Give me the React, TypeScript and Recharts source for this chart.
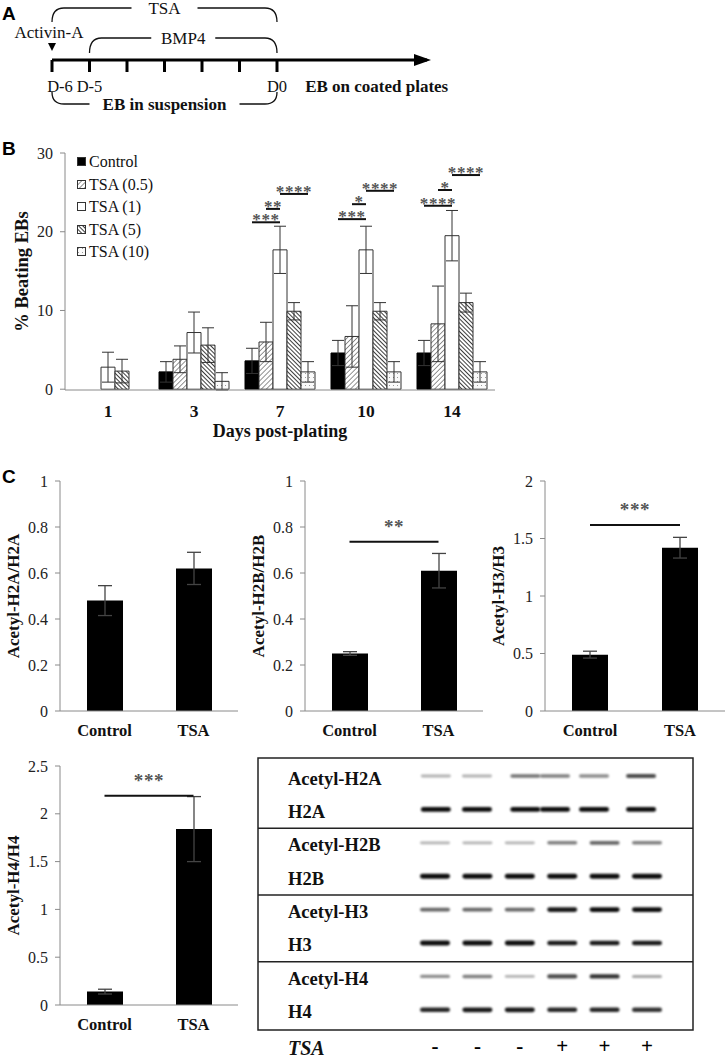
import React from "react";
import {
  BarChart,
  Bar,
  XAxis,
  YAxis,
  ErrorBar,
  ReferenceLine,
  ReferenceDot,
  ReferenceArea,
  Legend,
  LineChart,
  Line,
  ScatterChart,
  Scatter,
} from "recharts";

const SERIF = '"Liberation Serif", "Times New Roman", serif';
const SANS = '"Liberation Sans", Arial, sans-serif';
const AXIS = "#8a8a8a";

// ---- A: protocol timeline (days relative to plating)
const timelineDays = [-6, -5, -4, -3, -2, -1, 0];
const timelineLabels = ["D-6", "D-5", "", "", "", "", "D0"];

// ---- B: % beating EBs
const days = ["1", "3", "7", "10", "14"];
const seriesNames = ["Control", "TSA (0.5)", "TSA (1)", "TSA (5)", "TSA (10)"];
const controlMean = [null, 2.2, 3.6, 4.6, 4.6];
const controlErr = [null, 1.3, 1.6, 1.6, 1.6];
const tsa05Mean = [null, 3.8, 6.0, 6.7, 8.3];
const tsa05Err = [null, 1.7, 2.5, 3.9, 4.8];
const tsa1Mean = [2.8, 7.2, 17.7, 17.7, 19.5];
const tsa1Err = [1.9, 2.6, 3.0, 3.0, 3.2];
const tsa5Mean = [2.3, 5.6, 9.9, 9.9, 11.0];
const tsa5Err = [1.5, 2.2, 1.1, 1.1, 1.2];
const tsa10Mean = [null, 1.0, 2.2, 2.2, 2.2];
const tsa10Err = [null, 1.1, 1.3, 1.3, 1.3];

// significance brackets: category index, series from/to, height (%), stars
const beatingSig = [
  { day: 2, from: 0, to: 2, y: 21.2, stars: "***" },
  { day: 2, from: 1, to: 2, y: 22.9, stars: "**" },
  { day: 2, from: 2, to: 4, y: 24.8, stars: "****" },
  { day: 3, from: 0, to: 2, y: 21.6, stars: "***" },
  { day: 3, from: 1, to: 2, y: 23.5, stars: "*" },
  { day: 3, from: 2, to: 4, y: 25.2, stars: "****" },
  { day: 4, from: 0, to: 2, y: 23.3, stars: "****" },
  { day: 4, from: 1, to: 2, y: 25.3, stars: "*" },
  { day: 4, from: 2, to: 4, y: 27.2, stars: "****" },
];

// ---- C: acetylation ratios
const groups = ["Control", "TSA"];
const h2aMean = [0.48, 0.62];
const h2aErr = [0.065, 0.07];
const h2bMean = [0.25, 0.61];
const h2bErr = [0.008, 0.075];
const h3Mean = [0.49, 1.42];
const h3Err = [0.03, 0.09];
const h4Mean = [0.14, 1.84];
const h4Err = [0.025, 0.34];

// western blot
const blotRows = ["Acetyl-H2A", "H2A", "Acetyl-H2B", "H2B", "Acetyl-H3", "H3", "Acetyl-H4", "H4"];
const tsaSigns = ["-", "-", "-", "+", "+", "+"];
const lanes = [1, 2, 3, 4, 5, 6];
const h2aLanes = [1.02, 1.99, 3.13, 3.83, 4.75, 5.86];
const bandIntensity = [
  [0.3, 0.3, 0.55, 0.5, 0.45, 0.7],
  [0.95, 0.95, 0.95, 0.95, 0.95, 0.95],
  [0.3, 0.3, 0.3, 0.5, 0.6, 0.5],
  [0.95, 0.95, 0.95, 0.95, 0.95, 0.95],
  [0.6, 0.6, 0.6, 0.9, 0.95, 0.95],
  [0.95, 0.95, 0.95, 0.9, 0.9, 0.9],
  [0.45, 0.5, 0.3, 0.7, 0.8, 0.35],
  [0.85, 0.9, 0.9, 0.85, 0.85, 0.8],
];

const beatingSeries = [
  { key: "control", mean: controlMean, err: controlErr },
  { key: "tsa05", mean: tsa05Mean, err: tsa05Err },
  { key: "tsa1", mean: tsa1Mean, err: tsa1Err },
  { key: "tsa5", mean: tsa5Mean, err: tsa5Err },
  { key: "tsa10", mean: tsa10Mean, err: tsa10Err },
];
const seriesFills = ["#000", "url(#hatchLight)", "#fff", "url(#hatchDark)", "url(#speckle)"];

const beatingData = days.map((d, i) => {
  const row: any = { day: d, pos: i + 0.5 };
  beatingSeries.forEach((s) => {
    row[s.key] = s.mean[i];
    row[s.key + "Err"] = s.err[i];
  });
  return row;
});

const blotData = blotRows.flatMap((_, ri) =>
  bandIntensity[ri].map((v, li) => ({
    lane: ri < 2 ? h2aLanes[li] : lanes[li],
    row: ri,
    intensity: v,
  }))
);

const B_PLOT_W = 430;
const B_BAR = 14;
const barCenter = (day: number, s: number) => day + 0.5 + ((s - 2) * B_BAR) / (B_PLOT_W / 5);

const starLabel = (stars: string, lift: number, size: number) => (props: any) => {
  const vb = props.viewBox;
  return (
    <text
      x={vb.x + vb.width / 2}
      y={vb.y - lift}
      textAnchor="middle"
      fontFamily={SERIF}
      fontSize={size}
      fontWeight="bold"
      fill="#555"
      letterSpacing={0.6}
    >
      {stars}
    </text>
  );
};

const yTitle = (text: string, x: number, size: number) => (props: any) => {
  const vb = props.viewBox;
  const cy = vb.y + vb.height / 2;
  return (
    <text
      x={x}
      y={cy}
      transform={`rotate(-90 ${x} ${cy})`}
      textAnchor="middle"
      dominantBaseline="central"
      fontFamily={SERIF}
      fontSize={size}
      fontWeight="bold"
      fill="#111"
    >
      {text}
    </text>
  );
};

function Brace(props: any) {
  const { x1, x2, y1, depth, text, gap, bold } = props;
  const rx = 12;
  const mid = (x1 + x2) / 2;
  const d =
    `M${x1},${y1 + depth} Q${x1},${y1} ${x1 + rx},${y1} L${mid - gap},${y1} ` +
    `M${mid + gap},${y1} L${x2 - rx},${y1} Q${x2},${y1} ${x2},${y1 + depth}`;
  return (
    <g>
      <path d={d} fill="none" stroke="#111" strokeWidth={1.3} />
      <text
        x={mid}
        y={y1}
        dy="0.35em"
        textAnchor="middle"
        fontFamily={SERIF}
        fontSize={17}
        fontWeight={bold ? "bold" : "normal"}
        fill="#111"
      >
        {text}
      </text>
    </g>
  );
}

const DayTick = ({ x, y, payload }: any) => {
  const i = timelineDays.indexOf(payload.value);
  return (
    <text x={i === 0 ? x + 8 : x} y={y} dy="0.72em" textAnchor="middle" fontFamily={SERIF} fontSize={16.5} fill="#111">
      {timelineLabels[i]}
    </text>
  );
};

function Timeline() {
  return (
    <LineChart
      width={725}
      height={120}
      data={timelineDays.map((d) => ({ d, base: 0 }))}
      margin={{ top: 0, right: 298, left: 52, bottom: 0 }}
    >
      <XAxis
        type="number"
        dataKey="d"
        domain={[-6, 4]}
        ticks={timelineDays}
        height={60}
        axisLine={{ stroke: "#000", strokeWidth: 3 }}
        tickLine={{ stroke: "#000", strokeWidth: 3 }}
        tickSize={12}
        tickMargin={8}
        tick={<DayTick />}
      />
      <YAxis hide type="number" domain={[0, 60]} allowDataOverflow />
      <Line dataKey="base" stroke="none" dot={false} isAnimationActive={false} />
      <ReferenceLine
        segment={[{ x: -6, y: 52 }, { x: 0, y: 52 }]}
        ifOverflow="visible"
        shape={(p: any) => <Brace {...p} depth={14} gap={33} text="TSA" />}
      />
      <ReferenceLine
        segment={[{ x: -5, y: 22 }, { x: 0, y: 22 }]}
        ifOverflow="visible"
        shape={(p: any) => <Brace {...p} depth={15} gap={32} text="BMP4" />}
      />
      <ReferenceLine
        segment={[{ x: -6, y: -44 }, { x: 0, y: -44 }]}
        ifOverflow="visible"
        shape={(p: any) => <Brace {...p} depth={-12} gap={75} text="EB in suspension" bold />}
      />
      <ReferenceDot
        x={4}
        y={0}
        ifOverflow="visible"
        shape={(p: any) => (
          <polygon points={`${p.cx - 13},${p.cy - 6} ${p.cx + 4},${p.cy} ${p.cx - 13},${p.cy + 6}`} fill="#000" />
        )}
      />
      <ReferenceDot
        x={-6}
        y={12}
        ifOverflow="visible"
        shape={(p: any) => (
          <g>
            <polygon points={`${p.cx - 4},${p.cy - 5} ${p.cx + 4},${p.cy - 5} ${p.cx},${p.cy + 3}`} fill="#000" />
            <text x={p.cx - 3} y={p.cy - 10} textAnchor="middle" fontFamily={SERIF} fontSize={17} fill="#111">
              Activin-A
            </text>
          </g>
        )}
      />
      <ReferenceDot
        x={0.75}
        y={-26}
        ifOverflow="visible"
        shape={(p: any) => (
          <text x={p.cx} y={p.cy} dy="0.35em" textAnchor="start" fontFamily={SERIF} fontSize={17} fontWeight="bold" fill="#111">
            EB on coated plates
          </text>
        )}
      />
    </LineChart>
  );
}

const BeatingLegend = () => (
  <div style={{ fontFamily: SERIF, fontSize: 16, lineHeight: "22.5px", color: "#111" }}>
    {seriesNames.map((n, i) => (
      <div key={n} style={{ display: "flex", alignItems: "center" }}>
        <svg width={10} height={10} style={{ marginRight: 2 }}>
          <rect x={0.5} y={0.5} width={8} height={8} fill={seriesFills[i]} stroke="#333" />
        </svg>
        {n}
      </div>
    ))}
  </div>
);

function BeatingChart() {
  return (
    <BarChart
      width={510}
      height={305}
      data={beatingData}
      margin={{ top: 13, right: 15, left: 0, bottom: 0 }}
      barGap={0}
    >
      <defs>
        <pattern id="hatchLight" width={3.5} height={3.5} patternUnits="userSpaceOnUse" patternTransform="rotate(45)">
          <rect width={3.5} height={3.5} fill="#fff" />
          <line x1={0} y1={0} x2={0} y2={3.5} stroke="#7a7a7a" strokeWidth={1.6} />
        </pattern>
        <pattern id="hatchDark" width={3} height={3} patternUnits="userSpaceOnUse" patternTransform="rotate(-45)">
          <rect width={3} height={3} fill="#fff" />
          <line x1={0} y1={0} x2={0} y2={3} stroke="#1a1a1a" strokeWidth={1.7} />
        </pattern>
        <pattern id="speckle" width={4} height={4} patternUnits="userSpaceOnUse">
          <rect width={4} height={4} fill="#fafafa" />
          <rect x={1} y={1} width={1} height={1} fill="#9a9a9a" />
        </pattern>
      </defs>
      <XAxis
        xAxisId="a"
        type="number"
        dataKey="pos"
        domain={[0, 5]}
        ticks={[0, 1, 2, 3, 4, 5]}
        height={1}
        axisLine={{ stroke: AXIS }}
        tick={false}
        tickSize={5}
        tickLine={{ stroke: AXIS }}
        allowDataOverflow
      />
      <XAxis
        xAxisId="b"
        dataKey="day"
        height={54}
        axisLine={false}
        tickLine={false}
        tickSize={6}
        tickMargin={8}
        tick={{ fontSize: 17.5, fontWeight: "bold", fill: "#111", fontFamily: SERIF }}
        label={(props: any) => {
          const vb = props.viewBox;
          return (
            <text
              x={vb.x + vb.width / 2}
              y={vb.y + 46}
              textAnchor="middle"
              fontFamily={SERIF}
              fontSize={18}
              fontWeight="bold"
              fill="#111"
            >
              Days post-plating
            </text>
          );
        }}
      />
      <YAxis
        width={65}
        domain={[0, 30]}
        ticks={[0, 10, 20, 30]}
        axisLine={{ stroke: AXIS }}
        tickLine={{ stroke: AXIS }}
        tickSize={5}
        tickMargin={7}
        tick={{ fontSize: 16, fill: "#222", fontFamily: SERIF }}
        label={yTitle("% Beating EBs", 22, 18.5)}
      />
      <Legend
        content={<BeatingLegend />}
        layout="vertical"
        align="center"
        verticalAlign="middle"
        wrapperStyle={{ left: 77, top: 11, width: 110 }}
      />
      {beatingSeries.map((s, i) => (
        <Bar
          key={s.key}
          xAxisId="b"
          dataKey={s.key}
          barSize={B_BAR}
          fill={seriesFills[i]}
          stroke={i === 0 ? "#000" : "#333"}
          strokeWidth={1}
          isAnimationActive={false}
        >
          <ErrorBar dataKey={s.key + "Err"} width={6} stroke="#333" strokeWidth={1} direction="y" />
        </Bar>
      ))}
      {beatingSig.map((g, i) => (
        <ReferenceLine
          key={i}
          xAxisId="a"
          segment={[
            { x: barCenter(g.day, g.from), y: g.y },
            { x: barCenter(g.day, g.to), y: g.y },
          ]}
          stroke="#111"
          strokeWidth={2}
          ifOverflow="visible"
          label={starLabel(g.stars, -3, 17)}
        />
      ))}
    </BarChart>
  );
}

type HistoneProps = {
  left: number;
  top: number;
  width: number;
  right: number;
  plotH: number;
  mean: number[];
  err: number[];
  yMax: number;
  ticks: number[];
  title: string;
  sig?: { y: number; stars: string };
};

function HistoneChart(p: HistoneProps) {
  const data = groups.map((g, i) => ({ group: g, pos: i + 0.5, mean: p.mean[i], err: p.err[i] }));
  return (
    <div style={{ position: "absolute", left: p.left, top: p.top }}>
      <BarChart
        width={p.width}
        height={p.plotH + 10 + 40}
        data={data}
        margin={{ top: 10, right: p.right, left: 0, bottom: 0 }}
      >
        <XAxis
          xAxisId="a"
          type="number"
          dataKey="pos"
          domain={[0, 2]}
          ticks={[0, 1, 2]}
          height={1}
          axisLine={{ stroke: AXIS }}
          tick={false}
          tickSize={5}
          tickLine={{ stroke: AXIS }}
          allowDataOverflow
        />
        <XAxis
          xAxisId="b"
          dataKey="group"
          height={39}
          axisLine={false}
          tickLine={false}
          tickSize={5}
          tickMargin={7}
          tick={{ fontSize: 16.5, fontWeight: "bold", fill: "#111", fontFamily: SERIF }}
        />
        <YAxis
          width={60}
          domain={[0, p.yMax]}
          ticks={p.ticks}
          axisLine={{ stroke: AXIS }}
          tickLine={{ stroke: AXIS }}
          tickSize={5}
          tickMargin={7}
          tick={{ fontSize: 16, fill: "#222", fontFamily: SERIF }}
          label={yTitle(p.title, 13, 17)}
        />
        <Bar xAxisId="b" dataKey="mean" fill="#000" barSize={36} isAnimationActive={false}>
          <ErrorBar dataKey="err" width={7} stroke="#444" strokeWidth={1.3} direction="y" />
        </Bar>
        {p.sig && (
          <ReferenceLine
            xAxisId="a"
            segment={[
              { x: 0.5, y: p.sig.y },
              { x: 1.5, y: p.sig.y },
            ]}
            stroke="#111"
            strokeWidth={2}
            ifOverflow="visible"
            label={starLabel(p.sig.stars, 9, 19)}
          />
        )}
      </BarChart>
    </div>
  );
}

const BlotRowTick = ({ y, payload }: any) => (
  <text x={31} y={y} dy="0.35em" textAnchor="start" fontFamily={SERIF} fontSize={18.5} fontWeight="bold" fill="#111">
    {blotRows[payload.value]}
  </text>
);

function Blot() {
  return (
    <ScatterChart width={437} height={301} margin={{ top: 1, right: 1, left: 0, bottom: 0 }}>
      <defs>
        <filter id="bandBlur" x="-20%" y="-100%" width="140%" height="300%">
          <feGaussianBlur stdDeviation="0.9" />
        </filter>
      </defs>
      <XAxis
        type="number"
        dataKey="lane"
        domain={[-3.175, 7.085]}
        ticks={lanes}
        height={28}
        axisLine={false}
        tickLine={false}
        tickSize={6}
        tickMargin={2}
        tickFormatter={(v: number) => tsaSigns[v - 1]}
        tick={{ fontSize: 21, fontWeight: "bold", fill: "#000", fontFamily: SERIF }}
        allowDataOverflow
        label={(props: any) => {
          const vb = props.viewBox;
          return (
            <text
              x={31}
              y={vb.y + 18}
              dy="0.35em"
              fontFamily={SERIF}
              fontSize={20}
              fontWeight="bold"
              fontStyle="italic"
              fill="#111"
            >
              TSA
            </text>
          );
        }}
      />
      <YAxis
        type="number"
        dataKey="row"
        domain={[-0.6, 7.545]}
        reversed
        width={1}
        ticks={[0, 1, 2, 3, 4, 5, 6, 7]}
        axisLine={false}
        tickLine={false}
        tick={<BlotRowTick />}
        allowDataOverflow
      />
      <ReferenceArea
        x1={-3.175}
        x2={7.085}
        y1={-0.6}
        y2={7.545}
        fill="none"
        stroke="#222"
        strokeWidth={1.5}
        ifOverflow="visible"
      />
      {[1.5, 3.5, 5.5].map((y) => (
        <ReferenceLine key={y} y={y} stroke="#222" strokeWidth={1.5} />
      ))}
      <Scatter
        data={blotData}
        isAnimationActive={false}
        shape={(p: any) => {
          const h = 2 + 3 * p.payload.intensity;
          return (
            <rect
              x={p.cx - 15}
              y={p.cy - 2 - h / 2}
              width={30}
              height={h}
              rx={h / 2}
              fill="#000"
              opacity={p.payload.intensity}
              filter="url(#bandBlur)"
            />
          );
        }}
      />
    </ScatterChart>
  );
}

const panelLetter = (t: string, top: number) => (
  <div
    style={{
      position: "absolute",
      left: 2,
      top,
      fontFamily: SANS,
      fontWeight: "bold",
      fontSize: 19,
      lineHeight: "19px",
      color: "#000",
    }}
  >
    {t}
  </div>
);

export default function App() {
  return (
    <div
      style={{
        position: "absolute",
        left: 0,
        top: 0,
        width: 725,
        height: 1058,
        background: "#fff",
        fontFamily: SERIF,
        color: "#111",
        overflow: "hidden",
      }}
    >
      <div style={{ position: "absolute", left: 0, top: 0 }}>
        <Timeline />
      </div>
      <div style={{ position: "absolute", left: 0, top: 140 }}>
        <BeatingChart />
      </div>
      <HistoneChart left={0} top={471} width={245} right={7} plotH={230} mean={h2aMean} err={h2aErr} yMax={1}
        ticks={[0, 0.2, 0.4, 0.6, 0.8, 1]} title="Acetyl-H2A/H2A" />
      <HistoneChart left={245} top={471} width={245} right={7} plotH={230} mean={h2bMean} err={h2bErr} yMax={1}
        ticks={[0, 0.2, 0.4, 0.6, 0.8, 1]} title="Acetyl-H2B/H2B" sig={{ y: 0.736, stars: "**" }} />
      <HistoneChart left={485} top={471} width={240} right={0} plotH={230} mean={h3Mean} err={h3Err} yMax={2}
        ticks={[0, 0.5, 1, 1.5, 2]} title="Acetyl-H3/H3" sig={{ y: 1.617, stars: "***" }} />
      <HistoneChart left={0} top={756} width={245} right={7} plotH={239} mean={h4Mean} err={h4Err} yMax={2.5}
        ticks={[0, 0.5, 1, 1.5, 2, 2.5]} title="Acetyl-H4/H4" sig={{ y: 2.19, stars: "***" }} />
      <div style={{ position: "absolute", left: 257, top: 757 }}>
        <Blot />
      </div>
      {panelLetter("A", 4)}
      {panelLetter("B", 139)}
      {panelLetter("C", 467)}
    </div>
  );
}
